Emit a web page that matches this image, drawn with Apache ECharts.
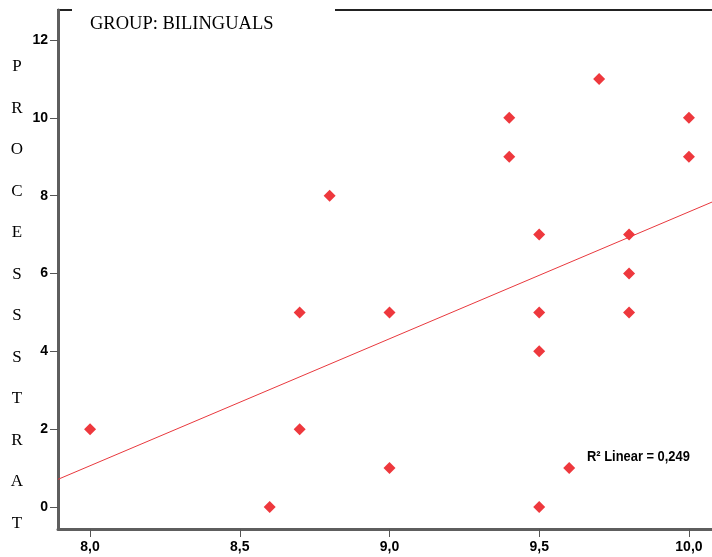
<!DOCTYPE html>
<html>
<head>
<meta charset="utf-8">
<script src="https://cdn.jsdelivr.net/npm/echarts@6/dist/echarts.min.js"></script>
<style>
html,body{margin:0;padding:0;background:#fff;}
#chart{width:712px;height:557px;}
</style>
</head>
<body>
<div id="chart"></div>
<script>
// Data
var groupTitle = 'GROUP: BILINGUALS';
var yAxisTitle = 'PROCESSSTRAT';
var xValues = [8.0, 8.6, 8.7, 8.7, 8.8, 9.0, 9.0, 9.4, 9.4, 9.5, 9.5, 9.5, 9.5, 9.6, 9.7, 9.8, 9.8, 9.8, 10.0, 10.0];
var yValues = [2, 0, 5, 2, 8, 5, 1, 10, 9, 7, 5, 4, 0, 1, 11, 7, 6, 5, 10, 9];
var xTicks = [8.0, 8.5, 9.0, 9.5, 10.0];
var yTicks = [0, 2, 4, 6, 8, 10, 12];
var r2Label = 'R² Linear = 0,249';

var X_MIN = 7.893, X_MAX = 10.077, Y_MIN = -0.565, Y_MAX = 12.771;

// least-squares fit of the data
var n = xValues.length, mx = 0, my = 0;
for (var i = 0; i < n; i++) { mx += xValues[i]; my += yValues[i]; }
mx /= n; my /= n;
var sxy = 0, sxx = 0;
for (var i = 0; i < n; i++) { sxy += (xValues[i] - mx) * (yValues[i] - my); sxx += (xValues[i] - mx) * (xValues[i] - mx); }
var slope = sxy / sxx, intercept = my - slope * mx;
var fitLine = [[X_MIN, intercept + slope * X_MIN], [X_MAX, intercept + slope * X_MAX]];

var points = xValues.map(function (x, i) { return [x, yValues[i]]; });

var sans = '"Liberation Sans", Arial, sans-serif';
var serif = '"Liberation Serif", "Times New Roman", serif';

var chart = echarts.init(document.getElementById('chart'), null, {renderer: 'canvas'});
chart.setOption({
  animation: false,
  backgroundColor: '#ffffff',
  grid: {left: 58, right: 0, top: 10, bottom: 28, containLabel: false},
  xAxis: {
    type: 'value', min: X_MIN, max: X_MAX,
    splitLine: {show: false},
    axisLine: {show: true, onZero: false, lineStyle: {color: '#5e5e5e', width: 3}},
    axisTick: {show: true, length: 8, customValues: xTicks, lineStyle: {color: '#555', width: 1}},
    axisLabel: {
      customValues: xTicks, margin: 11,
      fontFamily: sans, fontWeight: 'bold', fontSize: 14, color: '#000',
      formatter: function (v) { return v.toFixed(1).replace('.', ','); }
    }
  },
  yAxis: {
    type: 'value', min: Y_MIN, max: Y_MAX,
    splitLine: {show: false},
    axisLine: {show: true, onZero: false, lineStyle: {color: '#5e5e5e', width: 3}},
    axisTick: {show: true, length: 8, customValues: yTicks, lineStyle: {color: '#555', width: 1}},
    axisLabel: {
      customValues: yTicks, margin: 10,
      fontFamily: sans, fontWeight: 'bold', fontSize: 14, color: '#000'
    }
  },
  graphic: [
    {type: 'line', shape: {x1: 57, y1: 10, x2: 72, y2: 10}, style: {stroke: '#222', lineWidth: 2}},
    {type: 'line', shape: {x1: 335, y1: 10, x2: 712, y2: 10}, style: {stroke: '#222', lineWidth: 2}},
    {type: 'text', x: 90, y: 24, style: {text: groupTitle, font: '18.5px ' + serif, fill: '#000', textVerticalAlign: 'middle'}},
    {type: 'text', x: 17, y: 46, style: {text: yAxisTitle.split('').join('\n'), font: '17px ' + serif, lineHeight: 41.5, fill: '#000', textAlign: 'center', textVerticalAlign: 'top'}},
    {type: 'text', x: 587, y: 457, scaleX: 0.86, style: {text: r2Label, font: 'bold 15px ' + sans, fill: '#000', textVerticalAlign: 'middle'}}
  ],
  series: [
    {
      type: 'line', data: fitLine, symbol: 'none', clip: true, silent: true,
      lineStyle: {color: '#e8383d', width: 1}, z: 2
    },
    {
      type: 'scatter', data: points, symbol: 'diamond', symbolSize: 12,
      itemStyle: {color: '#ee383d', opacity: 1}, z: 3
    }
  ]
});
</script>
</body>
</html>
